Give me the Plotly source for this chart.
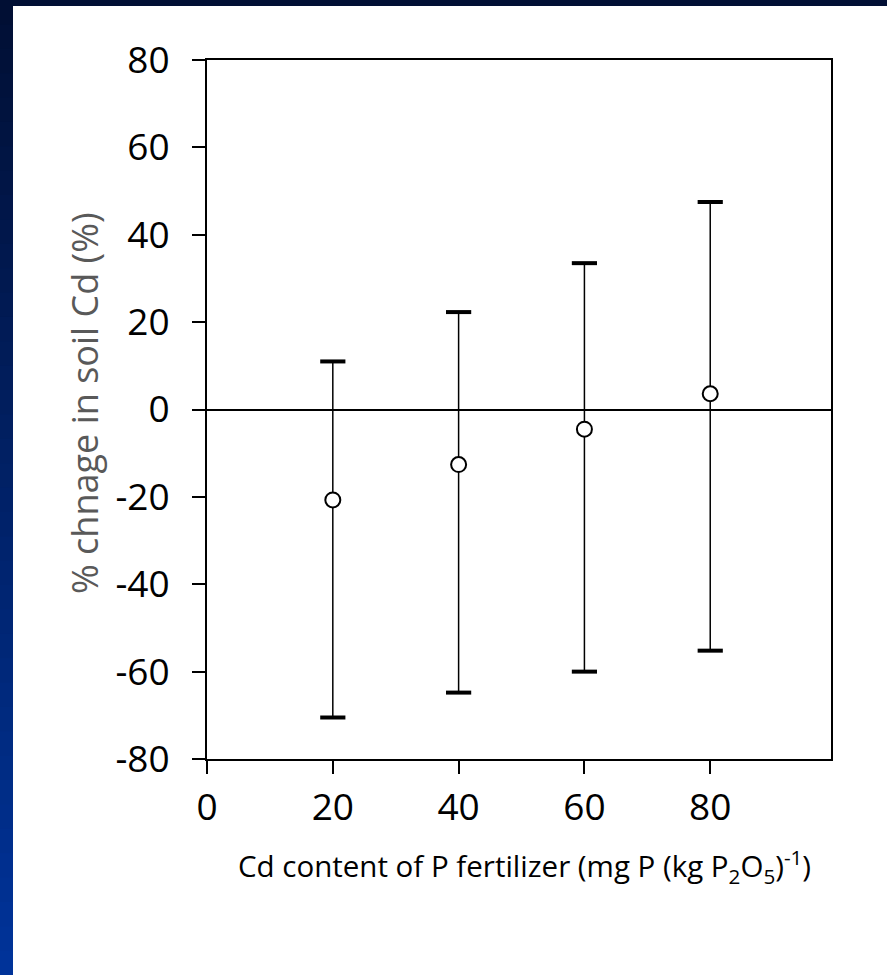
import plotly.graph_objects as go

# ---- data ----
cd_content = [20, 40, 60, 80]
mean_change = [-20.7, -12.6, -4.5, 3.6]
upper_limit = [11.0, 22.3, 33.5, 47.5]
lower_limit = [-70.5, -64.8, -60.0, -55.2]
x_ticks = [0, 20, 40, 60, 80]
y_ticks = [-80, -60, -40, -20, 0, 20, 40, 60, 80]
y_tick_labels = ["-80", "-60", "-40", "-20", "0", "20", "40", "60", "80"]

err_plus = [u - m for u, m in zip(upper_limit, mean_change)]
err_minus = [m - l for m, l in zip(mean_change, lower_limit)]

W, H = 887, 975
L, R, T, B = 207, 56, 60, 216
PW, PH = W - L - R, H - T - B


def px_x(p):
    return (p - L) / PW


def px_y(p):
    return (H - B - p) / PH


FONT = "Open Sans"

fig = go.Figure()

# error stems
fig.add_trace(go.Scatter(
    x=cd_content, y=mean_change, mode="markers",
    marker=dict(size=1, color="rgba(0,0,0,0)"),
    error_y=dict(type="data", symmetric=False, array=err_plus,
                 arrayminus=err_minus, thickness=1.5, width=0, color="black"),
    showlegend=False, hoverinfo="skip"))

# caps
fig.add_trace(go.Scatter(
    x=cd_content + cd_content, y=upper_limit + lower_limit, mode="markers",
    marker=dict(symbol="line-ew", size=18, line=dict(width=4, color="black")),
    showlegend=False, hoverinfo="skip"))

# mean points
fig.add_trace(go.Scatter(
    x=cd_content, y=mean_change, mode="markers",
    marker=dict(symbol="circle", size=15, color="white",
                line=dict(width=2, color="black")),
    showlegend=False))

# background decoration: dark top strip and gradient left strip
shapes = []
n = 40
c0 = (1, 15, 52)
c1 = (0, 51, 153)
for i in range(n):
    t = i / (n - 1)
    col = tuple(round(a + (b - a) * t) for a, b in zip(c0, c1))
    y0p = (H) * i / n
    y1p = (H) * (i + 1) / n
    shapes.append(dict(type="rect", xref="paper", yref="paper",
                       x0=px_x(0), x1=px_x(13), y0=px_y(min(H, y1p + 3)), y1=px_y(y0p),
                       fillcolor="rgb(%d,%d,%d)" % col, line=dict(width=0),
                       layer="below"))
shapes.append(dict(type="rect", xref="paper", yref="paper",
                   x0=px_x(0), x1=px_x(W), y0=px_y(6), y1=px_y(0),
                   fillcolor="#010f34", line=dict(width=0), layer="below"))

fig.update_layout(
    width=W, height=H,
    margin=dict(l=L, r=R, t=T, b=B),
    paper_bgcolor="white", plot_bgcolor="white",
    shapes=shapes,
    font=dict(family=FONT, color="black"),
    xaxis=dict(range=[0, 99.2], tickvals=x_ticks, showgrid=False, zeroline=False,
               showline=True, linecolor="black", linewidth=2, mirror=True,
               ticks="outside", ticklen=13, tickwidth=2, tickcolor="black",
               tickfont=dict(size=37, family=FONT, color="black"),
               ticklabelstandoff=2),
    yaxis=dict(range=[-80, 80], tickvals=y_ticks, ticktext=y_tick_labels,
               showgrid=False,
               zeroline=True, zerolinecolor="black", zerolinewidth=1.5,
               showline=True, linecolor="black", linewidth=2, mirror=True,
               ticks="outside", ticklen=13, tickwidth=2, tickcolor="black",
               tickfont=dict(size=37, family=FONT, color="black"),
               ticklabelstandoff=15),
    annotations=[
        dict(text="% chnage in soil Cd (%)", xref="paper", yref="paper",
             x=px_x(84), y=px_y(403), xanchor="center", yanchor="middle",
             textangle=-90, showarrow=False,
             font=dict(size=36, family=FONT, color="#595959")),
        dict(text="Cd content of P fertilizer (mg P (kg P<sub>2</sub>O<sub>5</sub>)<sup>-1</sup>)",
             xref="paper", yref="paper",
             x=px_x(524), y=px_y(866), xanchor="center", yanchor="middle",
             showarrow=False,
             font=dict(size=29.5, family=FONT, color="black")),
    ],
)

fig.write_html("out.html")
